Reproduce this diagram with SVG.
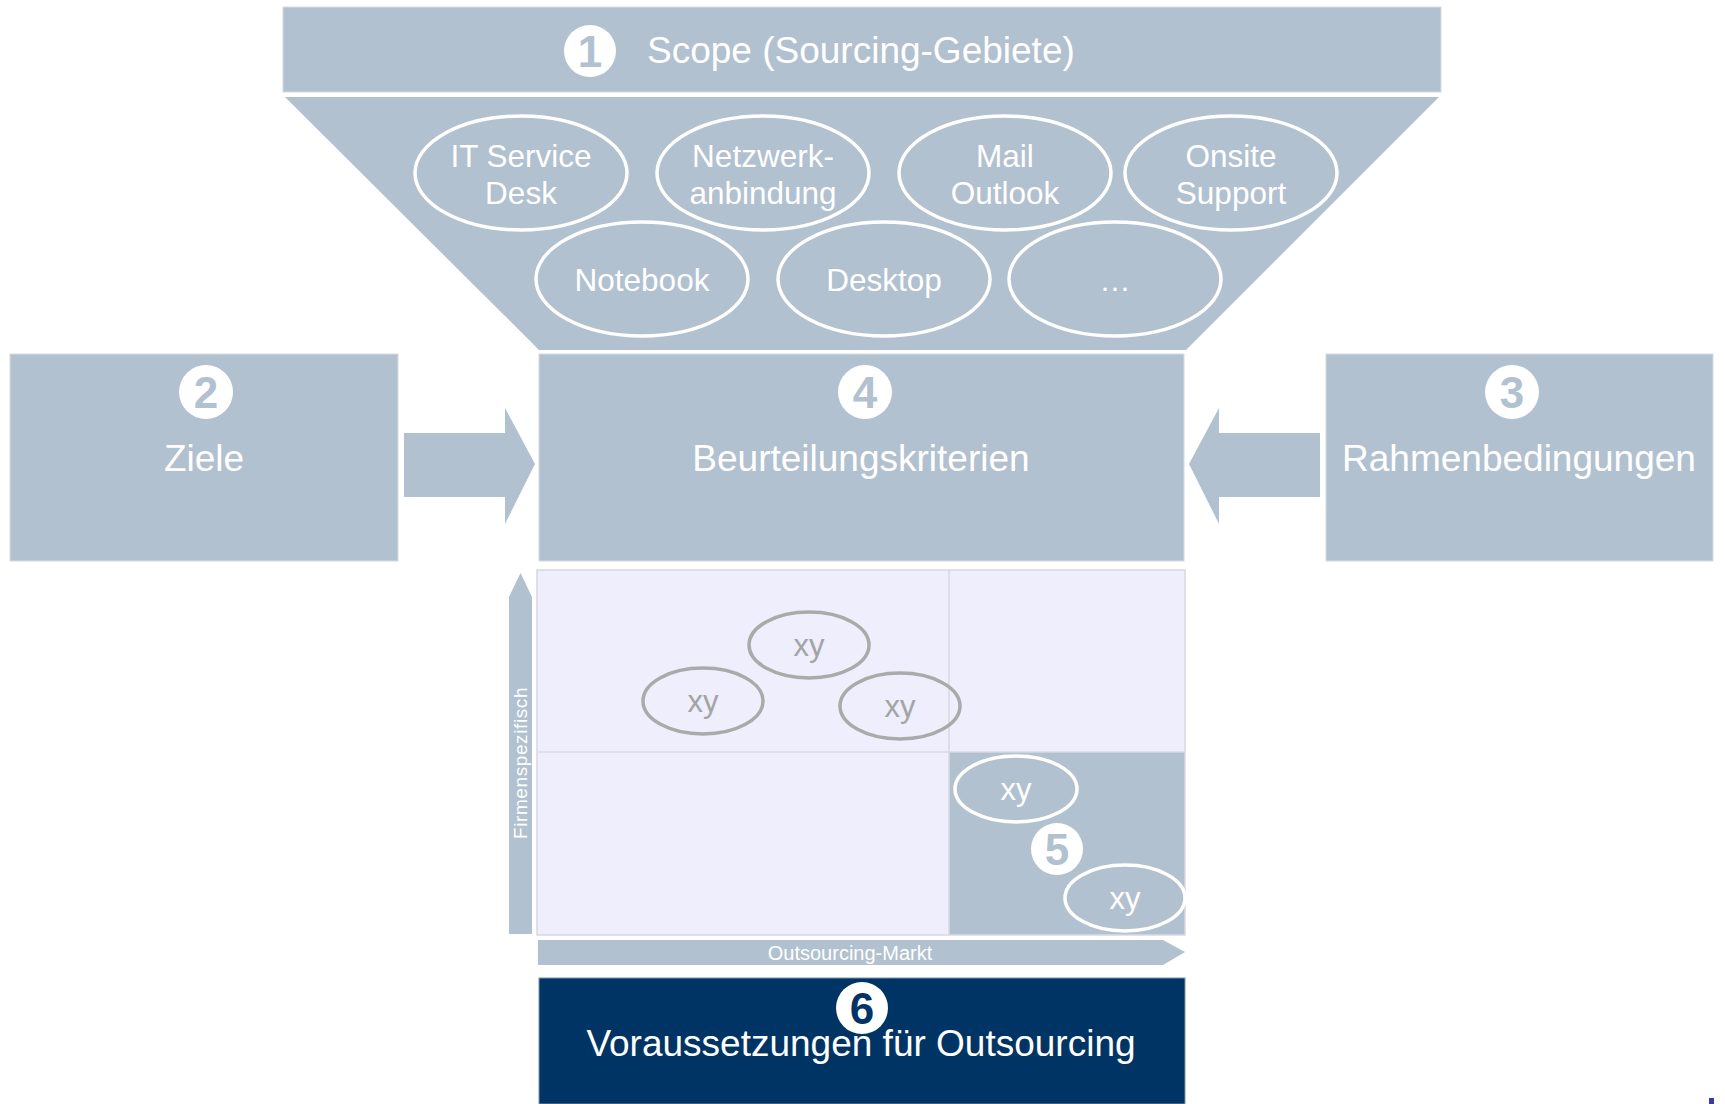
<svg xmlns="http://www.w3.org/2000/svg" width="1725" height="1104" viewBox="0 0 1725 1104">
<style>
.box{fill:#b1c1d0;stroke:#d3dbe4;stroke-width:1}
.t{font-family:"Liberation Sans",Arial,sans-serif;fill:#fff;text-anchor:middle}
.big{font-size:37px}
.mid{font-size:31.5px}
.num{font-family:"Liberation Sans",Arial,sans-serif;font-weight:bold;font-size:44px;text-anchor:middle;fill:#b1c1d0}
.wc{fill:#fff}
.oval{fill:none;stroke:#fff;stroke-width:3.5}
.goval{fill:none;stroke:#aaaaaa;stroke-width:3.5}
.gt{font-family:"Liberation Sans",Arial,sans-serif;font-size:31px;fill:#a4a4a4;text-anchor:middle}
.wt{font-family:"Liberation Sans",Arial,sans-serif;font-size:31px;fill:#fff;text-anchor:middle}
.arr{fill:#b1c1d0}
.grid{stroke:#d8d8e2;stroke-width:1.5;fill:none}
</style>
<rect width="1725" height="1104" fill="#fff"/>

<g id="scope">
<rect class="box" x="283" y="7" width="1158" height="85"/>
<circle class="wc" cx="590" cy="51" r="26"/>
<text class="num" x="590" y="67">1</text>
<text class="t big" x="647" y="63" style="text-anchor:start">Scope (Sourcing-Gebiete)</text>
</g>

<g id="funnel">
<polygon class="arr" points="285,97 1439,97 1186,350 539,350"/>
</g>

<g id="item-it-service-desk">
<ellipse class="oval" cx="521" cy="173" rx="106" ry="57"/>
<text class="t mid" x="521" y="167">IT Service</text>
<text class="t mid" x="521" y="204">Desk</text>
</g>
<g id="item-netzwerk">
<ellipse class="oval" cx="763" cy="173" rx="106" ry="57"/>
<text class="t mid" x="763" y="167">Netzwerk-</text>
<text class="t mid" x="763" y="204">anbindung</text>
</g>
<g id="item-mail">
<ellipse class="oval" cx="1005" cy="173" rx="106" ry="57"/>
<text class="t mid" x="1005" y="167">Mail</text>
<text class="t mid" x="1005" y="204">Outlook</text>
</g>
<g id="item-onsite">
<ellipse class="oval" cx="1231" cy="173" rx="106" ry="57"/>
<text class="t mid" x="1231" y="167">Onsite</text>
<text class="t mid" x="1231" y="204">Support</text>
</g>
<g id="item-notebook">
<ellipse class="oval" cx="642" cy="279" rx="106" ry="57"/>
<text class="t mid" x="642" y="291">Notebook</text>
</g>
<g id="item-desktop">
<ellipse class="oval" cx="884" cy="279" rx="106" ry="57"/>
<text class="t mid" x="884" y="291">Desktop</text>
</g>
<g id="item-more">
<ellipse class="oval" cx="1115" cy="279" rx="106" ry="57"/>
<text class="t mid" x="1115" y="291">…</text>
</g>

<g id="ziele">
<rect class="box" x="10" y="354" width="388" height="207"/>
<circle class="wc" cx="206" cy="392" r="27"/>
<text class="num" x="206" y="408">2</text>
<text class="t big" x="204" y="471">Ziele</text>
</g>

<g id="kriterien">
<rect class="box" x="539" y="354" width="645" height="207"/>
<circle class="wc" cx="865" cy="392" r="27"/>
<text class="num" x="865" y="408">4</text>
<text class="t big" x="861" y="471">Beurteilungskriterien</text>
</g>

<g id="rahmen">
<rect class="box" x="1326" y="354" width="387" height="207"/>
<circle class="wc" cx="1512" cy="392" r="27"/>
<text class="num" x="1512" y="408">3</text>
<text class="t big" x="1519" y="471">Rahmenbedingungen</text>
</g>

<g id="connectors">
<polygon class="arr" points="404,433 505,433 505,408 535,464 505,524 505,497 404,497"/>
<polygon class="arr" points="1320,433 1219,433 1219,408 1189,464 1219,524 1219,497 1320,497"/>
</g>

<g id="matrix">
<rect x="537" y="570" width="648" height="365" fill="#eeeefc"/>
<rect x="949" y="752" width="236" height="183" fill="#b1c1d0"/>
<rect class="grid" x="537" y="570" width="648" height="365"/>
<line class="grid" x1="949" y1="570" x2="949" y2="935"/>
<line class="grid" x1="537" y1="752" x2="949" y2="752"/>
<line class="grid" x1="949" y1="752" x2="1185" y2="752"/>
<polygon class="arr" points="509,597 520.5,573 532,597 532,934 509,934"/>
<text class="t" font-size="19" letter-spacing="0.6" transform="translate(527,763) rotate(-90)">Firmenspezifisch</text>
<polygon class="arr" points="538,940 1163,940 1185,952 1163,965 538,965"/>
<text class="t" font-size="20" x="850" y="960">Outsourcing-Markt</text>
</g>

<g id="xy-1">
<ellipse class="goval" cx="809" cy="645" rx="60" ry="33"/>
<text class="gt" x="809" y="656">xy</text>
</g>
<g id="xy-2">
<ellipse class="goval" cx="703" cy="701" rx="60" ry="33"/>
<text class="gt" x="703" y="712">xy</text>
</g>
<g id="xy-3">
<ellipse class="goval" cx="900" cy="706" rx="60" ry="33"/>
<text class="gt" x="900" y="717">xy</text>
</g>
<g id="xy-4">
<ellipse class="oval" cx="1016" cy="789" rx="61" ry="33"/>
<text class="wt" x="1016" y="800">xy</text>
</g>
<g id="xy-5">
<ellipse class="oval" cx="1125" cy="898" rx="60" ry="33"/>
<text class="wt" x="1125" y="909">xy</text>
</g>
<g id="marker-5">
<circle class="wc" cx="1057" cy="849" r="26"/>
<text class="num" x="1057" y="865">5</text>
</g>

<g id="voraussetzungen">
<rect x="539" y="978" width="646" height="126" fill="#003464" stroke="#7d93ad" stroke-width="1"/>
<circle class="wc" cx="862" cy="1008" r="26"/>
<text class="num" x="862" y="1024" style="fill:#003464">6</text>
<text class="t big" x="861" y="1056">Voraussetzungen für Outsourcing</text>
</g>

<rect x="1709" y="1098" width="5" height="6" fill="#3b3ba0"/>
</svg>
